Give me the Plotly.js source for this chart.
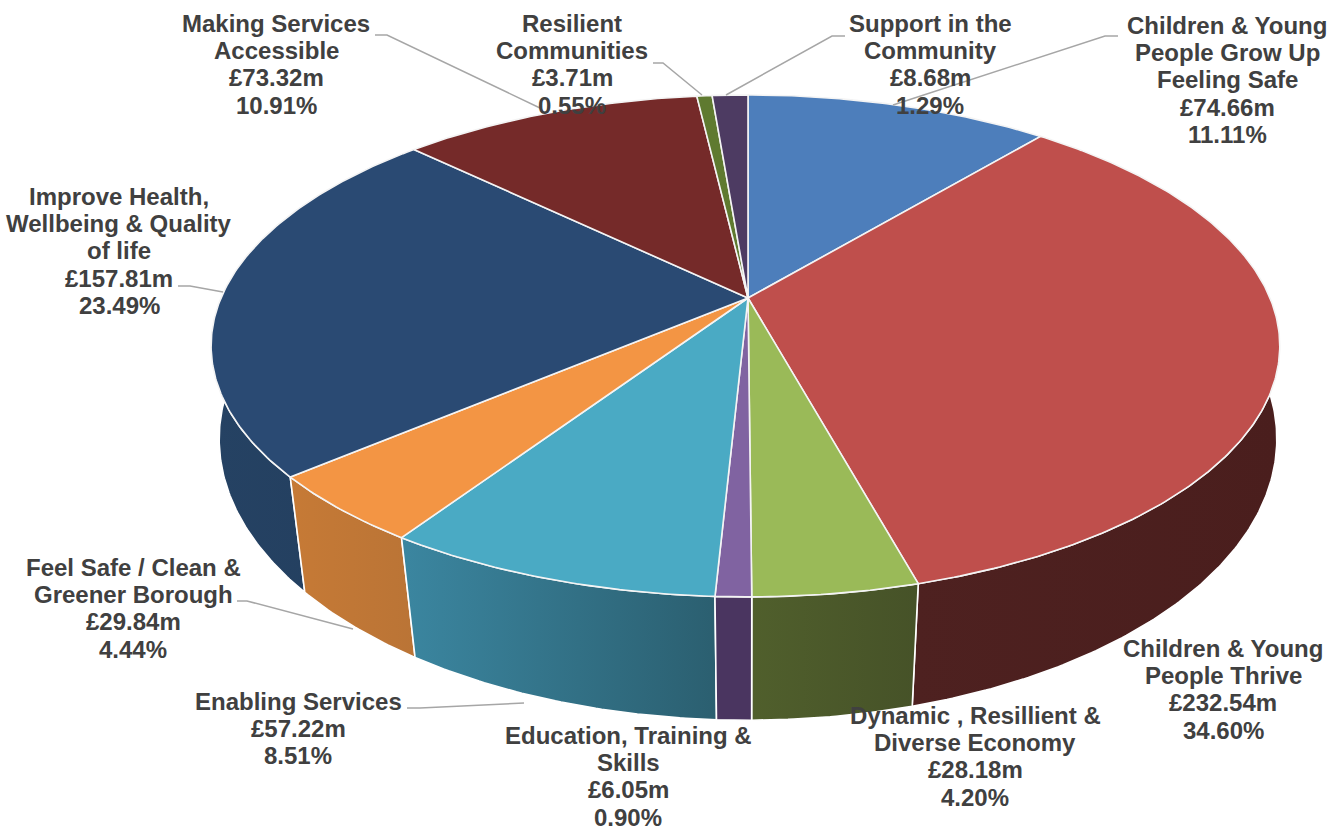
<!DOCTYPE html>
<html>
<head>
<meta charset="utf-8">
<title>Budget by priority</title>
<script src="https://cdn.plot.ly/plotly-3.0.1.min.js"></script>
<style>html,body{margin:0;padding:0;background:#fff}#chart{width:1344px;height:829px}</style>
</head>
<body>
<div id="chart"></div>
<script>
// Budget split, clockwise from twelve o'clock
const names = [
  ["Children & Young", "People Grow Up", "Feeling Safe"],
  ["Children & Young", "People Thrive"],
  ["Dynamic , Resillient &", "Diverse Economy"],
  ["Education, Training &", "Skills"],
  ["Enabling Services"],
  ["Feel Safe / Clean &", "Greener Borough"],
  ["Improve Health,", "Wellbeing & Quality", "of life"],
  ["Making Services", "Accessible"],
  ["Resilient", "Communities"],
  ["Support in the", "Community"]
];
const amounts = [74.66, 232.54, 28.18, 6.05, 57.22, 29.84, 157.81, 73.32, 3.71, 8.68];
const shares = ["11.11%", "34.60%", "4.20%", "0.90%", "8.51%", "4.44%", "23.49%", "10.91%", "0.55%", "1.29%"];

const topColours = ["#4d7ebb", "#bf4f4c", "#9aba58", "#8063a1", "#4aaac4", "#f39544", "#2a4a73", "#752a29", "#5f7a30", "#4d3b62"];
const wallColours = [
  ["#2f4f77", "#2f4f77"], ["#4e2120", "#4a1e1d"], ["#505f2c", "#465228"], ["#4a3560", "#4a3560"],
  ["#3b86a0", "#2b5f70"], ["#c67a36", "#ba7436"], ["#254263", "#233e5e"], ["#4a1b1a", "#4a1b1a"],
  ["#3c4d1e", "#3c4d1e"], ["#30253f", "#30253f"]
];

// Label anchors: centre x and first-line centre y of each text block
const labelX = [1227, 1223, 975, 628, 298, 133, 119, 276, 572, 930];
const labelY = [25, 648, 715, 735, 701, 567, 196, 23, 23, 23];
const lineStep = 27.4;

// Leader lines from label to slice
const leaders = [
  {x: [1118, 1105, 893], y: [36, 36, 105]},
  {x: [178, 190, 223], y: [286, 286, 292]},
  {x: [237, 247, 353], y: [601, 601, 629]},
  {x: [407, 420, 524], y: [708, 708, 703]},
  {x: [375, 387, 540], y: [35, 35, 108]},
  {x: [653, 663, 702], y: [63, 63, 95]},
  {x: [845, 832, 726], y: [36, 36, 95]}
];

// Perspective projection of the top and bottom rims onto the page
const topRim = {cx: 748, cy: 298, axL: 527, axR: 522, ay: 241.8, k: 0.191};
const lowRim = {cx: 748, cy: 394, axL: 522, axR: 522, ay: 274, k: 0.16};

function project(rim, theta) {
  const X = Math.sin(theta), Y = Math.cos(theta), d = 1 + rim.k * Y;
  return [rim.cx + (X < 0 ? rim.axL : rim.axR) * X / d, rim.cy - rim.ay * Y / d];
}
function arc(rim, a, b) {
  const n = Math.max(2, Math.ceil((b - a) / 0.01)), pts = [];
  for (let i = 0; i <= n; i++) pts.push(project(rim, a + (b - a) * i / n));
  return pts;
}

const total = amounts.reduce((s, v) => s + v, 0);
let running = 0;
const spans = amounts.map(v => {
  const a = running / total * 2 * Math.PI;
  running += v;
  return [a, running / total * 2 * Math.PI];
});

const poly = (pts, extra) => Object.assign({
  type: "scatter", mode: "lines", fill: "toself",
  x: pts.map(p => p[0]), y: pts.map(p => p[1]),
  showlegend: false, hoverinfo: "skip"
}, extra);

// Side walls, furthest first so the nearer ones sit on top
const wallOrder = spans.map((s, i) => i).sort((i, j) =>
  Math.cos((spans[j][0] + spans[j][1]) / 2) - Math.cos((spans[i][0] + spans[i][1]) / 2));
const walls = wallOrder.map(i => {
  const upper = arc(topRim, spans[i][0], spans[i][1]);
  const pts = upper.concat(arc(lowRim, spans[i][0], spans[i][1]).reverse());
  pts.push(upper[0]);
  return poly(pts, {
    line: {color: "#ffffff", width: 1.6},
    fillgradient: {type: "horizontal", colorscale: [[0, wallColours[i][0]], [1, wallColours[i][1]]]}
  });
});

// Top faces
const faces = spans.map((s, i) => {
  const pts = [[topRim.cx, topRim.cy]].concat(arc(topRim, s[0], s[1]));
  pts.push([topRim.cx, topRim.cy]);
  return poly(pts, {
    fillcolor: topColours[i],
    line: {color: "#f4f4f4", width: 1.6},
    hoverinfo: "text",
    hoveron: "fills",
    text: names[i].join(" ") + ": £" + amounts[i].toFixed(2) + "m (" + shares[i] + ")"
  });
});

const leaderLines = leaders.map(l => ({
  type: "scatter", mode: "lines", x: l.x, y: l.y,
  line: {color: "#a6a6a6", width: 1.5}, showlegend: false, hoverinfo: "skip"
}));

// Each label line is placed on its own so the leading stays tight at this size
const annotations = names.flatMap((n, i) =>
  n.concat(["£" + amounts[i].toFixed(2) + "m", shares[i]]).map((line, j) => ({
    x: labelX[i], y: labelY[i] + j * lineStep, xref: "x", yref: "y",
    xanchor: "center", yanchor: "middle", align: "center", showarrow: false,
    text: "<b>" + line + "</b>",
    font: {family: "Liberation Sans, Arial, sans-serif", size: 24, color: "#404040"},
    borderpad: 0
  })));

const hidden = {visible: false, fixedrange: true};
Plotly.newPlot("chart", walls.concat(faces, leaderLines), {
  width: 1344, height: 829,
  margin: {l: 0, r: 0, t: 0, b: 0},
  paper_bgcolor: "#ffffff", plot_bgcolor: "#ffffff",
  xaxis: Object.assign({range: [0, 1344]}, hidden),
  yaxis: Object.assign({range: [829, 0]}, hidden),
  annotations: annotations,
  hovermode: "closest"
}, {displayModeBar: false});
</script>
</body>
</html>
